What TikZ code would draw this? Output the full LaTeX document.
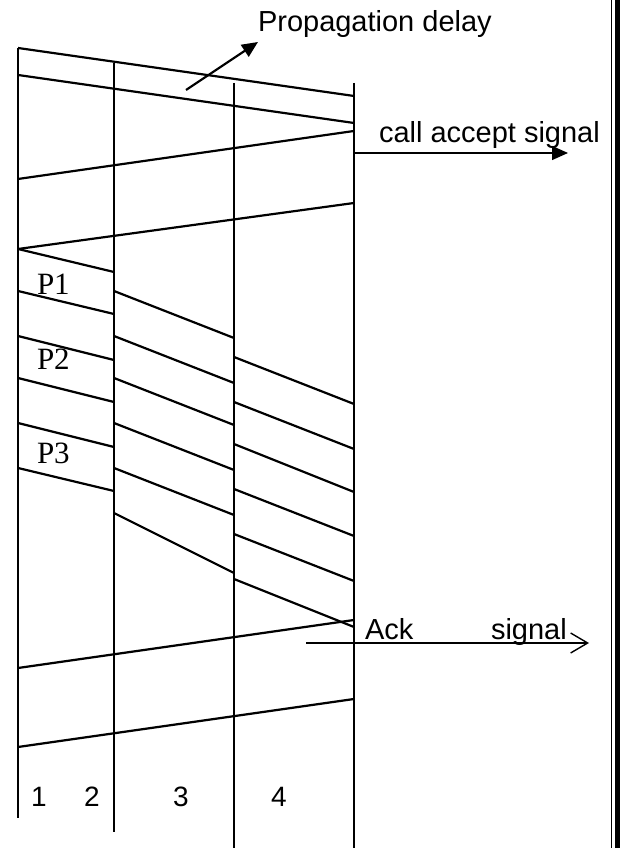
\documentclass[tikz,border=0pt]{standalone}
\usepackage{fontspec}
\setmainfont{Liberation Serif}
\newfontfamily\arialfont{Liberation Sans}
\usetikzlibrary{arrows.meta}

\begin{document}
\begin{tikzpicture}[x=1pt,y=1pt,
  wire/.style={draw=drawColor,line width= 2.2pt},
  thinwire/.style={draw=drawColor,line width= 1.4pt},
  sig/.style={text=drawColor,anchor=base west,inner sep=0pt,outer sep=0pt,font=\arialfont\fontsize{29}{34}\selectfont},
  pkt/.style={text=drawColor,anchor=base west,inner sep=0pt,outer sep=0pt,font=\fontsize{31}{36}\selectfont},
  num/.style={text=drawColor,anchor=base,inner sep=0pt,outer sep=0pt,font=\arialfont\fontsize{28}{33}\selectfont}]
\definecolor{fillColor}{RGB}{255,255,255}
\definecolor{drawColor}{RGB}{0,0,0}
\path[use as bounding box,fill=fillColor] (0,0) rectangle (620,848);

% stations
\path[wire] ( 18.00,800.00) -- ( 18.00, 30.00);
\path[wire] (114.00,785.00) -- (114.00, 16.00);
\path[wire] (234.00,765.00) -- (234.00,  0.00);
\path[wire] (354.00,765.00) -- (354.00,  0.00);

% call request and accept
\path[wire] ( 18.00,800.00) -- (354.00,752.00);
\path[wire] ( 18.00,773.00) -- (354.00,725.00);
\path[wire] (354.00,717.00) -- ( 18.00,669.00);
\path[wire] (354.00,645.00) -- ( 18.00,599.00);

% packets, hop 1-2
\path[wire] ( 18.00,599.00) -- (114.00,576.00);
\path[wire] ( 18.00,557.00) -- (114.00,534.00);
\path[wire] ( 18.00,512.00) -- (114.00,488.00);
\path[wire] ( 18.00,470.00) -- (114.00,446.00);
\path[wire] ( 18.00,425.00) -- (114.00,401.00);
\path[wire] ( 18.00,380.00) -- (114.00,357.00);

% packets, hop 2-3
\path[wire] (114.00,557.00) -- (234.00,510.00);
\path[wire] (114.00,512.00) -- (234.00,465.00);
\path[wire] (114.00,470.00) -- (234.00,423.00);
\path[wire] (114.00,425.00) -- (234.00,378.00);
\path[wire] (114.00,380.00) -- (234.00,333.00);
\path[wire] (114.00,335.00) -- (234.00,275.00);

% packets, hop 3-4
\path[wire] (234.00,491.00) -- (354.00,444.00);
\path[wire] (234.00,446.00) -- (354.00,399.00);
\path[wire] (234.00,404.00) -- (354.00,356.00);
\path[wire] (234.00,359.00) -- (354.00,312.00);
\path[wire] (234.00,314.00) -- (354.00,267.00);
\path[wire] (234.00,269.00) -- (354.00,221.00);

% ack and release
\path[wire] (354.00,228.00) -- ( 18.00,180.00);
\path[wire] (354.00,149.00) -- ( 18.00,101.00);

\node[sig] (propdelay) at (258.00,816.00) {Propagation delay};
\node[sig] (callaccept) at (379.00,705.00) {call accept signal};
\node[sig] (ack) at (365.00,208.00) {Ack};
\node[sig] (acksignal) at (491.00,208.00) {signal};

\coordinate (pdtail) at (186.00,758.00);
\coordinate (pdtip) at (258.00,806.00);
\draw[wire,-{Triangle[length=16pt,width=14pt]}] (pdtail) -- (pdtip);

\coordinate (accfrom) at (354.00,695.00);
\coordinate (accto) at (568.00,695.00);
\draw[thinwire,-{Triangle[length=16pt,width=14pt]}] (accfrom) -- (accto);

\coordinate (ackfrom) at (306.00,205.00);
\coordinate (ackto) at (589.00,205.00);
\draw[thinwire,-{Straight Barb[length=17pt,width=20pt]}] (ackfrom) -- (ackto);

\node[pkt] (p1) at ( 37.00,553.00) {P1};
\node[pkt] (p2) at ( 37.00,478.00) {P2};
\node[pkt] (p3) at ( 37.00,384.00) {P3};

\node[num] (n1) at ( 39.00, 41.00) {1};
\node[num] (n2) at ( 92.00, 41.00) {2};
\node[num] (n3) at (181.00, 41.00) {3};
\node[num] (n4) at (279.00, 41.00) {4};

% page frame
\path[draw=drawColor,line width= 1.2pt] (611.50,  0.00) -- (611.50,848.00);
\path[fill=drawColor] (615.00,  0.00) rectangle (620.00,848.00);
\end{tikzpicture}
\end{document}
